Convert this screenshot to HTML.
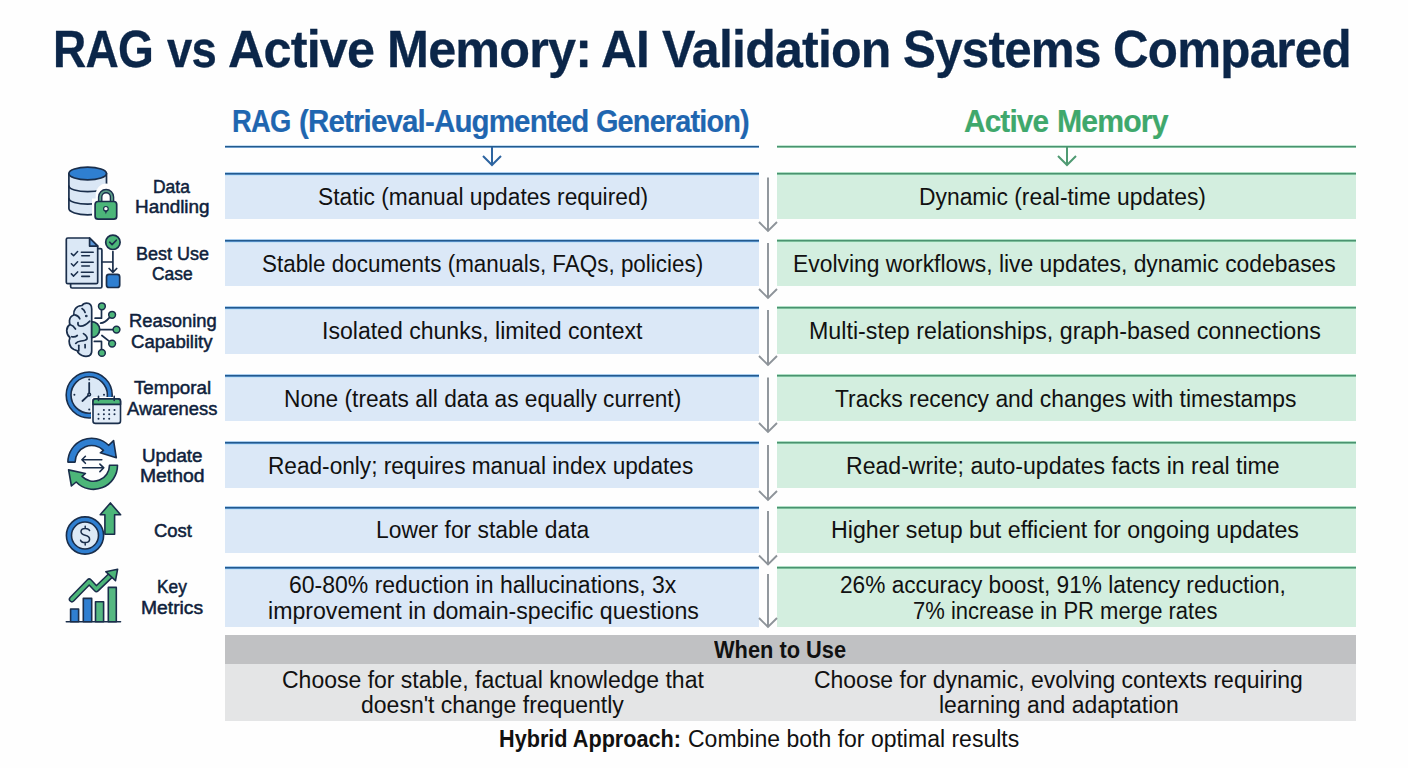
<!DOCTYPE html>
<html><head><meta charset="utf-8">
<style>
html,body{margin:0;padding:0;background:#fefefe;}
body{width:1408px;height:768px;position:relative;overflow:hidden;font-family:"Liberation Sans",sans-serif;}
.t{position:absolute;white-space:nowrap;transform-origin:0 0;}
.b{position:absolute;}
.rb{position:absolute;left:225px;width:534px;background:linear-gradient(#a9cdef 0 1px,#245a8c 1px 2px,#4f87c0 2px 3px,#c4e2f6 3px 4px,#dbe8f7 4px);}
.gb{position:absolute;left:777px;width:579px;background:linear-gradient(#aedfc4 0 1px,#4a9270 1px 2px,#7cbd9a 2px 3px,#cdf2de 3px 4px,#d3eedf 4px);}
svg{position:absolute;overflow:visible;}
</style></head>
<body>
<!-- header lines -->
<div class="b" style="left:225px;top:145px;width:534px;height:3px;background:linear-gradient(#c6def2 0 1px,#245a8c 1px 2px,#6d9dcc 2px 3px)"></div>
<div class="b" style="left:777px;top:145px;width:579px;height:3px;background:linear-gradient(#c4e8d4 0 1px,#4a9270 1px 2px,#86c4a2 2px 3px)"></div>
<svg style="left:0;top:0" width="1408" height="768">
 <path d="M492 147V165M483 156L492 165L501 156" stroke="#2d64a0" stroke-width="2" fill="none"/>
 <path d="M1067 147V165M1058 156L1067 165L1076 156" stroke="#4f9a72" stroke-width="2" fill="none"/>
</svg>
<!-- rows -->
<div class="rb" style="top:172px;height:47px"></div><div class="gb" style="top:172px;height:47px"></div>
<div class="rb" style="top:239px;height:47px"></div><div class="gb" style="top:239px;height:47px"></div>
<div class="rb" style="top:306px;height:48px"></div><div class="gb" style="top:306px;height:48px"></div>
<div class="rb" style="top:374px;height:47px"></div><div class="gb" style="top:374px;height:47px"></div>
<div class="rb" style="top:441px;height:47px"></div><div class="gb" style="top:441px;height:47px"></div>
<div class="rb" style="top:506px;height:47px"></div><div class="gb" style="top:506px;height:47px"></div>
<div class="rb" style="top:566px;height:61px"></div><div class="gb" style="top:566px;height:61px"></div>
<!-- gray arrows -->
<svg style="left:0;top:0" width="1408" height="768">
 <g stroke="#8d9399" stroke-width="1.9" fill="none">
 <path d="M768 177.5V231M759 222L768 231L777 222"/>
 <path d="M768 243V298M759 289L768 298L777 289"/>
 <path d="M768 310V365M759 356L768 365L777 356"/>
 <path d="M768 377.5V432M759 423L768 432L777 423"/>
 <path d="M768 445V500M759 491L768 500L777 491"/>
 <path d="M768 511V564.5M759 555.5L768 564.5L777 555.5"/>
 <path d="M768 574V627M759 618L768 627L777 618"/>
 </g>
</svg>
<!-- when to use -->
<div class="b" style="left:225px;top:635px;width:1131px;height:29px;background:#c0c1c3"></div>
<div class="b" style="left:225px;top:664px;width:1131px;height:57px;background:#e4e5e6"></div>
<svg style="left:60px;top:160px" width="65" height="65" viewBox="0 0 65 65">
 <g stroke="#1a2e4b" stroke-width="1.7" stroke-linejoin="round" stroke-linecap="round">
 <path d="M8.9 13.5V48.6A18.8 6.2 0 0 0 46.5 48.6V13.5Z" fill="#dae7f5"/>
 <path d="M8.9 26A18.8 5.6 0 0 0 46.5 26" fill="none"/>
 <path d="M8.9 38.6A18.8 5.6 0 0 0 46.5 38.6" fill="none"/>
 <ellipse cx="27.7" cy="13.5" rx="18.8" ry="6.3" fill="#2f7fd1"/>
 </g>
 <path d="M32 38.5V62.5H60.5V38.5H56.5V34A10.4 10.4 0 0 0 35.7 34V38.5Z" fill="#fefefe"/>
 <path d="M40.2 42V37A5.9 5.9 0 0 1 52 37V42" fill="none" stroke="#1a2e4b" stroke-width="4.6"/>
 <path d="M40.2 42V37A5.9 5.9 0 0 1 52 37V42" fill="none" stroke="#5c9e88" stroke-width="1.9"/>
 <rect x="35.1" y="41.5" width="21.6" height="17.7" rx="3" fill="#4cb679" stroke="#1a2e4b" stroke-width="1.7"/>
 <circle cx="45.9" cy="48.8" r="2.3" fill="#fefefe" stroke="#1a2e4b" stroke-width="1.2"/>
 <path d="M44.6 50.5L45.9 54.3L47.2 50.5Z" fill="#1a2e4b"/>
</svg>
<svg style="left:60px;top:230px" width="65" height="65" viewBox="0 0 65 65">
 <g stroke="#1a2e4b" stroke-width="1.7" stroke-linejoin="round" stroke-linecap="round">
 <rect x="10.6" y="18.6" width="31.3" height="39.4" rx="1.5" fill="#e2edf8"/>
 <path d="M7.8 8H29.6L37.7 16.1V52.2Q37.7 53.7 36.2 53.7H7.8Q6.3 53.7 6.3 52.2V9.5Q6.3 8 7.8 8Z" fill="#dbe8f6"/>
 <path d="M29.6 8V16.1H37.7Z" fill="#5a96d8"/>
 <path d="M11.4 23.6L13.6 25.8L17.6 21.6M11.4 33.8L13.6 36L17.6 31.8M11.4 43.9L13.6 46.1L17.6 41.9" fill="none" stroke-width="1.5"/>
 <path d="M21.4 22.2H33.2M21.8 25.8H29.4M21.4 32.3H33.2M21.8 36H29.4M21.4 42.3H33.2M21.8 46.4H29.4" fill="none" stroke-width="1.6"/>
 <path d="M41.9 32H52.9M52.9 21.6V42.3M49.1 38.5L52.9 42.3L56.7 38.5" fill="none"/>
 <circle cx="52.9" cy="12.3" r="7.2" fill="#4cb679"/>
 <path d="M49.6 12.2L52.1 14.6L56.3 10.2" fill="none" stroke-width="1.6"/>
 <rect x="46.5" y="44.4" width="13.2" height="13.1" rx="2.5" fill="#2f7fd1"/>
 </g>
</svg>
<svg style="left:60px;top:297px" width="65" height="65" viewBox="0 0 65 65">
 <g stroke="#1a2e4b" stroke-width="1.7" stroke-linejoin="round" stroke-linecap="round" fill="none">
 <path d="M31.7 12Q31.7 6.2 26.7 6.1Q23.5 6.1 22 8.5Q17.5 8.8 15.5 11.5Q13.2 14.5 13.8 18Q10 19.5 9.5 23.3Q9.3 26 9.9 27.5Q6.8 29.5 6.7 33.5Q6.8 38 9.9 40.5Q8.7 43.5 9.5 47Q10.5 51 14 52.5Q16 53.2 17.3 53.8Q18.2 57 22 58.5Q26 60 29.5 58.6Q31.7 57.5 31.7 54Z" fill="#dae7f5"/>
 <path d="M22 11.6Q24.5 13 25.1 15.5"/>
 <path d="M14.8 17.8Q18.5 18.5 19.8 21.8"/>
 <path d="M18 25.7Q17.5 28.5 19.5 29Q24 30 29.8 24.1"/>
 <path d="M9.9 27.5Q13.5 28.5 15.5 32"/>
 <path d="M11.8 39.7Q15 40.5 17.3 38.5"/>
 <path d="M23.5 36.6Q27.8 39.5 27 42Q25.5 43.8 21 44Q17 44.5 15.7 46.4"/>
 <path d="M18.8 48.3V53.8"/>
 <path d="M25.1 47.5V50.7"/>
 <circle cx="26.3" cy="19" r="0.5" fill="#1a2e4b"/>
 <path d="M31.7 24.6A8 8 0 0 1 31.7 40.6Z" fill="#4cb679"/>
 <path d="M35.1 21.2H41.5V12.8"/>
 <path d="M40.6 26.2Q45 26 49.6 20.4"/>
 <path d="M39.7 32.6H53"/>
 <path d="M41.9 38.5L49.4 44.4"/>
 <path d="M34.3 44.4H41.5V52.4"/>
 <g fill="#4cb679" stroke-width="1.5">
 <circle cx="41.9" cy="9.3" r="3.4"/><circle cx="52.1" cy="17.8" r="3.4"/><circle cx="56.5" cy="32.6" r="3.4"/><circle cx="52.1" cy="46.6" r="3.4"/><circle cx="41.9" cy="55.9" r="3.4"/>
 </g>
 </g>
</svg>
<svg style="left:60px;top:365px" width="65" height="65" viewBox="0 0 65 65">
 <g stroke="#1a2e4b" stroke-width="1.6" stroke-linejoin="round" stroke-linecap="round">
 <circle cx="29.2" cy="30" r="23" fill="#2f7fd1"/>
 <circle cx="29.2" cy="30" r="18.2" fill="#dbe8f6"/>
 <path d="M29.2 29.6V17.8M29.2 29.6L22.4 36" fill="none" stroke-width="1.8"/>
 <circle cx="29.2" cy="29.6" r="1.3" fill="#dbe8f6"/>
 </g>
 <g fill="#1a2e4b"><circle cx="29.2" cy="14.6" r="1"/><circle cx="44" cy="29.8" r="1"/><circle cx="29.2" cy="44.6" r="1"/><circle cx="14.4" cy="29.8" r="1"/></g>
 <rect x="31" y="31.9" width="31.5" height="28.5" rx="3.5" fill="#fefefe"/>
 <g stroke="#1a2e4b" stroke-width="1.6" stroke-linejoin="round" stroke-linecap="round">
 <rect x="33" y="33.9" width="27.5" height="24.5" rx="2.5" fill="#e3edf8"/>
 <path d="M33 39.4V36.4Q33 33.9 35.5 33.9H58Q60.5 33.9 60.5 36.4V39.4Z" fill="#4cb679"/>
 <path d="M38.5 31.3V35.5M54.2 31.3V35.5" fill="none"/>
 </g>
 <g fill="#1a2e4b"><circle cx="43.9" cy="44.9" r="1"/><circle cx="49.2" cy="44.9" r="1"/><circle cx="54.5" cy="44.9" r="1"/>
 <circle cx="38.5" cy="49.3" r="1"/><circle cx="43.9" cy="49.3" r="1"/><circle cx="49.2" cy="49.3" r="1"/><circle cx="54.5" cy="49.3" r="1"/>
 <circle cx="38.5" cy="53.8" r="1"/><circle cx="43.9" cy="53.8" r="1"/><circle cx="49.2" cy="53.8" r="1"/></g>
</svg>
<svg style="left:60px;top:432px" width="65" height="65" viewBox="0 0 65 65">
 <g stroke="#1a2e4b" stroke-width="1.6" stroke-linejoin="round" stroke-linecap="round">
 <path d="M7.9 30.1A23.8 23.8 0 0 1 48.6 13.3L53.6 8.6L56.3 25.8L40.3 20.8L43.5 18.4A16.6 16.6 0 0 0 15.1 30.1Z" fill="#2f7fd1"/>
 <path d="M57.5 33.3A24 24 0 0 1 16.2 50L11.4 54L8.6 37.9L25.4 41.5L22 44.4A16 16 0 0 0 49.5 33.3Z" fill="#4cb679"/>
 <path d="M41.8 27.8H21.9M25.4 24.3L21.9 27.8L25.4 31.3M22.7 35.8H43.8M39.9 32.1L43.8 35.8L39.9 39.6" fill="none"/>
 </g>
</svg>
<svg style="left:60px;top:497px" width="65" height="65" viewBox="0 0 65 65">
 <g stroke="#1a2e4b" stroke-width="1.6" stroke-linejoin="round" stroke-linecap="round">
 <path d="M44.9 37.3V17.8H40.2L50.4 5.9L60.6 17.8H54.6V37.3Z" fill="#4cb679"/>
 <circle cx="25" cy="38.5" r="18.6" fill="#2f7fd1"/>
 <circle cx="25" cy="38.5" r="13.5" fill="#dce9f6"/>
 <path d="M29.6 33.6Q28.8 31.4 25.2 31.4Q21 31.4 21 34.6Q21 37.3 25.1 38.3Q29.6 39.4 29.6 42.3Q29.6 45.6 25.1 45.6Q21.2 45.6 20.6 43.2M25.2 29.3V31.4M25.2 45.6V48" fill="none" stroke-width="1.5"/>
 </g>
</svg>
<svg style="left:60px;top:562px" width="65" height="65" viewBox="0 0 65 65">
 <g stroke="#1a2e4b" stroke-width="1.6" stroke-linejoin="round">
 <rect x="10.6" y="47" width="8" height="12.7" fill="#2f7fd1"/>
 <rect x="23.3" y="36.4" width="8.4" height="23.3" fill="#2f7fd1"/>
 <rect x="35.5" y="39.8" width="8.1" height="19.9" fill="#55b881"/>
 <rect x="48.3" y="25.4" width="8" height="34.3" fill="#55b881"/>
 <path d="M6.3 59.7H60.5" fill="none" stroke-linecap="round"/>
 <path d="M11.9 37.3L29.2 19.5L36.4 27.1L51.5 12.6" fill="none" stroke-width="6.4" stroke-linecap="round"/>
 <path d="M11.9 37.3L29.2 19.5L36.4 27.1L51.5 12.6" fill="none" stroke="#4cb679" stroke-width="3.4" stroke-linecap="round"/>
 <path d="M57.6 7.2L45.8 9.7L55.5 18.6Z" fill="#4cb679"/>
 </g>
</svg>

<span class="t" style="left:52.62px;top:24.40px;font-size:51.5px;line-height:51.5px;font-weight:700;color:#0b2649;letter-spacing:-0.8px;transform:scaleX(0.8943);-webkit-text-stroke:0.3px #0b2649">RAG</span>
<span class="t" style="left:166.60px;top:24.40px;font-size:51.5px;line-height:51.5px;font-weight:700;color:#0b2649;letter-spacing:-0.8px;transform:scaleX(0.8825);-webkit-text-stroke:0.3px #0b2649">vs</span>
<span class="t" style="left:228.32px;top:24.40px;font-size:51.5px;line-height:51.5px;font-weight:700;color:#0b2649;letter-spacing:-0.8px;transform:scaleX(0.9761);-webkit-text-stroke:0.3px #0b2649">Active</span>
<span class="t" style="left:386.77px;top:24.40px;font-size:51.5px;line-height:51.5px;font-weight:700;color:#0b2649;letter-spacing:-0.8px;transform:scaleX(0.9774);-webkit-text-stroke:0.3px #0b2649">Memory:</span>
<span class="t" style="left:601.34px;top:24.40px;font-size:51.5px;line-height:51.5px;font-weight:700;color:#0b2649;letter-spacing:-0.8px;transform:scaleX(0.9614);-webkit-text-stroke:0.3px #0b2649">AI</span>
<span class="t" style="left:662.00px;top:24.40px;font-size:51.5px;line-height:51.5px;font-weight:700;color:#0b2649;letter-spacing:-0.8px;transform:scaleX(0.9718);-webkit-text-stroke:0.3px #0b2649">Validation</span>
<span class="t" style="left:903.04px;top:24.40px;font-size:51.5px;line-height:51.5px;font-weight:700;color:#0b2649;letter-spacing:-0.8px;transform:scaleX(0.9578);-webkit-text-stroke:0.3px #0b2649">Systems</span>
<span class="t" style="left:1112.78px;top:24.40px;font-size:51.5px;line-height:51.5px;font-weight:700;color:#0b2649;letter-spacing:-0.8px;transform:scaleX(0.9578);-webkit-text-stroke:0.3px #0b2649">Compared</span>
<span class="t" style="left:231.83px;top:106.00px;font-size:31px;line-height:31px;font-weight:700;color:#1f66b0;letter-spacing:-0.9px;transform:scaleX(0.8847);-webkit-text-stroke:0.2px #1f66b0">RAG</span>
<span class="t" style="left:298.85px;top:106.00px;font-size:31px;line-height:31px;font-weight:700;color:#1f66b0;letter-spacing:-0.9px;transform:scaleX(0.9521);-webkit-text-stroke:0.2px #1f66b0">(Retrieval-Augmented</span>
<span class="t" style="left:596.37px;top:106.00px;font-size:31px;line-height:31px;font-weight:700;color:#1f66b0;letter-spacing:-0.9px;transform:scaleX(0.9315);-webkit-text-stroke:0.2px #1f66b0">Generation)</span>
<span class="t" style="left:964.10px;top:106.00px;font-size:31px;line-height:31px;font-weight:700;color:#3fa86c;letter-spacing:-0.9px;transform:scaleX(0.9603);-webkit-text-stroke:0.2px #3fa86c">Active</span>
<span class="t" style="left:1056.75px;top:106.00px;font-size:31px;line-height:31px;font-weight:700;color:#3fa86c;letter-spacing:-0.9px;transform:scaleX(0.9750);-webkit-text-stroke:0.2px #3fa86c">Memory</span>
<span class="t" style="left:317.51px;top:185.70px;font-size:23px;line-height:23px;font-weight:400;color:#111111;letter-spacing:0px;transform:scaleX(0.9894)">Static (manual updates required)</span>
<span class="t" style="left:262.03px;top:252.60px;font-size:23px;line-height:23px;font-weight:400;color:#111111;letter-spacing:0px;transform:scaleX(0.9748)">Stable documents (manuals, FAQs, policies)</span>
<span class="t" style="left:322.00px;top:320.30px;font-size:23px;line-height:23px;font-weight:400;color:#111111;letter-spacing:0px;transform:scaleX(1.0025)">Isolated chunks, limited context</span>
<span class="t" style="left:284.01px;top:387.60px;font-size:23px;line-height:23px;font-weight:400;color:#111111;letter-spacing:0px;transform:scaleX(0.9864)">None (treats all data as equally current)</span>
<span class="t" style="left:267.62px;top:455.00px;font-size:23px;line-height:23px;font-weight:400;color:#111111;letter-spacing:0px;transform:scaleX(0.9839)">Read-only; requires manual index updates</span>
<span class="t" style="left:375.91px;top:519.40px;font-size:23px;line-height:23px;font-weight:400;color:#111111;letter-spacing:0px;transform:scaleX(0.9930)">Lower for stable data</span>
<span class="t" style="left:288.60px;top:574.10px;font-size:23px;line-height:23px;font-weight:400;color:#111111;letter-spacing:0px;transform:scaleX(0.9997)">60-80% reduction in hallucinations, 3x</span>
<span class="t" style="left:267.59px;top:599.50px;font-size:23px;line-height:23px;font-weight:400;color:#111111;letter-spacing:0px;transform:scaleX(1.0062)">improvement in domain-specific questions</span>
<span class="t" style="left:918.71px;top:185.70px;font-size:23px;line-height:23px;font-weight:400;color:#111111;letter-spacing:0px;transform:scaleX(0.9933)">Dynamic (real-time updates)</span>
<span class="t" style="left:792.51px;top:252.60px;font-size:23px;line-height:23px;font-weight:400;color:#111111;letter-spacing:0px;transform:scaleX(0.9943)">Evolving workflows, live updates, dynamic codebases</span>
<span class="t" style="left:809.29px;top:320.30px;font-size:23px;line-height:23px;font-weight:400;color:#111111;letter-spacing:0px;transform:scaleX(1.0109)">Multi-step relationships, graph-based connections</span>
<span class="t" style="left:834.70px;top:387.60px;font-size:23px;line-height:23px;font-weight:400;color:#111111;letter-spacing:0px;transform:scaleX(0.9934)">Tracks recency and changes with timestamps</span>
<span class="t" style="left:845.50px;top:455.00px;font-size:23px;line-height:23px;font-weight:400;color:#111111;letter-spacing:0px;transform:scaleX(1.0035)">Read-write; auto-updates facts in real time</span>
<span class="t" style="left:830.69px;top:519.40px;font-size:23px;line-height:23px;font-weight:400;color:#111111;letter-spacing:0px;transform:scaleX(1.0090)">Higher setup but efficient for ongoing updates</span>
<span class="t" style="left:839.81px;top:574.10px;font-size:23px;line-height:23px;font-weight:400;color:#111111;letter-spacing:0px;transform:scaleX(0.9851)">26% accuracy boost, 91% latency reduction,</span>
<span class="t" style="left:912.94px;top:599.50px;font-size:23px;line-height:23px;font-weight:400;color:#111111;letter-spacing:0px;transform:scaleX(0.9564)">7% increase in PR merge rates</span>
<span class="t" style="left:714.20px;top:638.60px;font-size:23px;line-height:23px;font-weight:700;color:#111111;letter-spacing:0px;transform:scaleX(0.9481)">When to Use</span>
<span class="t" style="left:281.50px;top:668.50px;font-size:23px;line-height:23px;font-weight:400;color:#111111;letter-spacing:0px;transform:scaleX(0.9997)">Choose for stable, factual knowledge that</span>
<span class="t" style="left:361.40px;top:694.10px;font-size:23px;line-height:23px;font-weight:400;color:#111111;letter-spacing:0px;transform:scaleX(1.0004)">doesn't change frequently</span>
<span class="t" style="left:814.30px;top:668.50px;font-size:23px;line-height:23px;font-weight:400;color:#111111;letter-spacing:0px;transform:scaleX(0.9983)">Choose for dynamic, evolving contexts requiring</span>
<span class="t" style="left:939.00px;top:694.10px;font-size:23px;line-height:23px;font-weight:400;color:#111111;letter-spacing:0px;transform:scaleX(0.9974)">learning and adaptation</span>
<span class="t" style="left:499.06px;top:727.60px;font-size:23px;line-height:23px;font-weight:700;color:#111111;letter-spacing:0px;transform:scaleX(0.9412)">Hybrid Approach:</span>
<span class="t" style="left:688.40px;top:727.60px;font-size:23px;line-height:23px;font-weight:400;color:#111111;letter-spacing:0px;transform:scaleX(1.0003)">Combine both for optimal results</span>
<span class="t" style="left:153.05px;top:177.70px;font-size:18.3px;line-height:18.3px;font-weight:400;color:#0f1f3c;letter-spacing:0px;transform:scaleX(0.9545);-webkit-text-stroke:0.5px #0f1f3c">Data</span>
<span class="t" style="left:135.17px;top:198.00px;font-size:18.3px;line-height:18.3px;font-weight:400;color:#0f1f3c;letter-spacing:0px;transform:scaleX(1.0329);-webkit-text-stroke:0.5px #0f1f3c">Handling</span>
<span class="t" style="left:135.82px;top:244.80px;font-size:18.3px;line-height:18.3px;font-weight:400;color:#0f1f3c;letter-spacing:0px;transform:scaleX(0.9835);-webkit-text-stroke:0.5px #0f1f3c">Best Use</span>
<span class="t" style="left:152.20px;top:265.10px;font-size:18.3px;line-height:18.3px;font-weight:400;color:#0f1f3c;letter-spacing:0px;transform:scaleX(0.9527);-webkit-text-stroke:0.5px #0f1f3c">Case</span>
<span class="t" style="left:128.50px;top:312.40px;font-size:18.3px;line-height:18.3px;font-weight:400;color:#0f1f3c;letter-spacing:0px;transform:scaleX(1.0042);-webkit-text-stroke:0.5px #0f1f3c">Reasoning</span>
<span class="t" style="left:131.20px;top:332.50px;font-size:18.3px;line-height:18.3px;font-weight:400;color:#0f1f3c;letter-spacing:0px;transform:scaleX(1.0156);-webkit-text-stroke:0.5px #0f1f3c">Capability</span>
<span class="t" style="left:134.20px;top:379.40px;font-size:18.3px;line-height:18.3px;font-weight:400;color:#0f1f3c;letter-spacing:0px;transform:scaleX(1.0253);-webkit-text-stroke:0.5px #0f1f3c">Temporal</span>
<span class="t" style="left:127.10px;top:400.10px;font-size:18.3px;line-height:18.3px;font-weight:400;color:#0f1f3c;letter-spacing:0px;transform:scaleX(1.0026);-webkit-text-stroke:0.5px #0f1f3c">Awareness</span>
<span class="t" style="left:141.67px;top:447.00px;font-size:18.3px;line-height:18.3px;font-weight:400;color:#0f1f3c;letter-spacing:0px;transform:scaleX(1.0263);-webkit-text-stroke:0.5px #0f1f3c">Update</span>
<span class="t" style="left:140.24px;top:467.40px;font-size:18.3px;line-height:18.3px;font-weight:400;color:#0f1f3c;letter-spacing:0px;transform:scaleX(1.0577);-webkit-text-stroke:0.5px #0f1f3c">Method</span>
<span class="t" style="left:153.60px;top:522.30px;font-size:18.3px;line-height:18.3px;font-weight:400;color:#0f1f3c;letter-spacing:0px;transform:scaleX(1.0077);-webkit-text-stroke:0.5px #0f1f3c">Cost</span>
<span class="t" style="left:156.55px;top:578.30px;font-size:18.3px;line-height:18.3px;font-weight:400;color:#0f1f3c;letter-spacing:0px;transform:scaleX(0.9470);-webkit-text-stroke:0.5px #0f1f3c">Key</span>
<span class="t" style="left:140.85px;top:598.60px;font-size:18.3px;line-height:18.3px;font-weight:400;color:#0f1f3c;letter-spacing:0px;transform:scaleX(1.0543);-webkit-text-stroke:0.5px #0f1f3c">Metrics</span>
</body></html>
